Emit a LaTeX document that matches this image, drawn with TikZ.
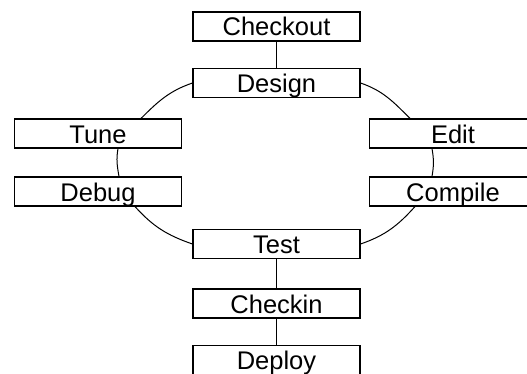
\documentclass[tikz,border=0pt]{standalone}
\usepackage{fontspec}
\setmainfont{Liberation Sans}
\usepackage{tikz}
\usetikzlibrary{positioning}

\tikzset{
  stage/.style={draw, line width=1.1pt, rectangle, inner sep=0pt,
    minimum width=167pt, minimum height=29pt,
    text height=19pt, text depth=0pt,
    font=\fontsize{25.5}{30}\selectfont},
  link/.style={line width=1pt}
}

\begin{document}
\begin{tikzpicture}[x=1pt, y=1pt]
      \useasboundingbox (0, 0) rectangle (527, 373);
      \clip (0, 0) rectangle (527, 373);
      \foreach \name/\x/\y/\txt in {checkout/276.5/346.5/Checkout, design/276.5/290/Design,
        tune/98/239.5/Tune, debug/98/181.5/Debug, edit/453/239.5/Edit,
        compile/453/181.5/Compile, test/276.5/129/Test, checkin/276.5/69.5/Checkin,
        deploy/276.5/13/Deploy} {
        \node[stage] (\name) at (\x, \y) {\txt};
      }
      \draw[link] (checkout) -- (design);
      \draw[link] (test) -- (checkin);
      \draw[link] (checkin) -- (deploy);
      \draw[link] (design.west) to[out=199, in=45] ([xshift=43pt]tune.north);
      \draw[link] ([xshift=20pt]tune.south) to[out=260, in=100] ([xshift=21pt]debug.north);
      \draw[link] ([xshift=37pt]debug.south) to[out=312, in=161] (test.west);
      \draw[link] (design.east) to[out=341, in=135] ([xshift=-43pt]edit.north);
      \draw[link] ([xshift=-21pt]edit.south) to[out=280, in=80] ([xshift=-21pt]compile.north);
      \draw[link] ([xshift=-38pt]compile.south) to[out=228, in=19] (test.east);
    \end{tikzpicture}
\end{document}
